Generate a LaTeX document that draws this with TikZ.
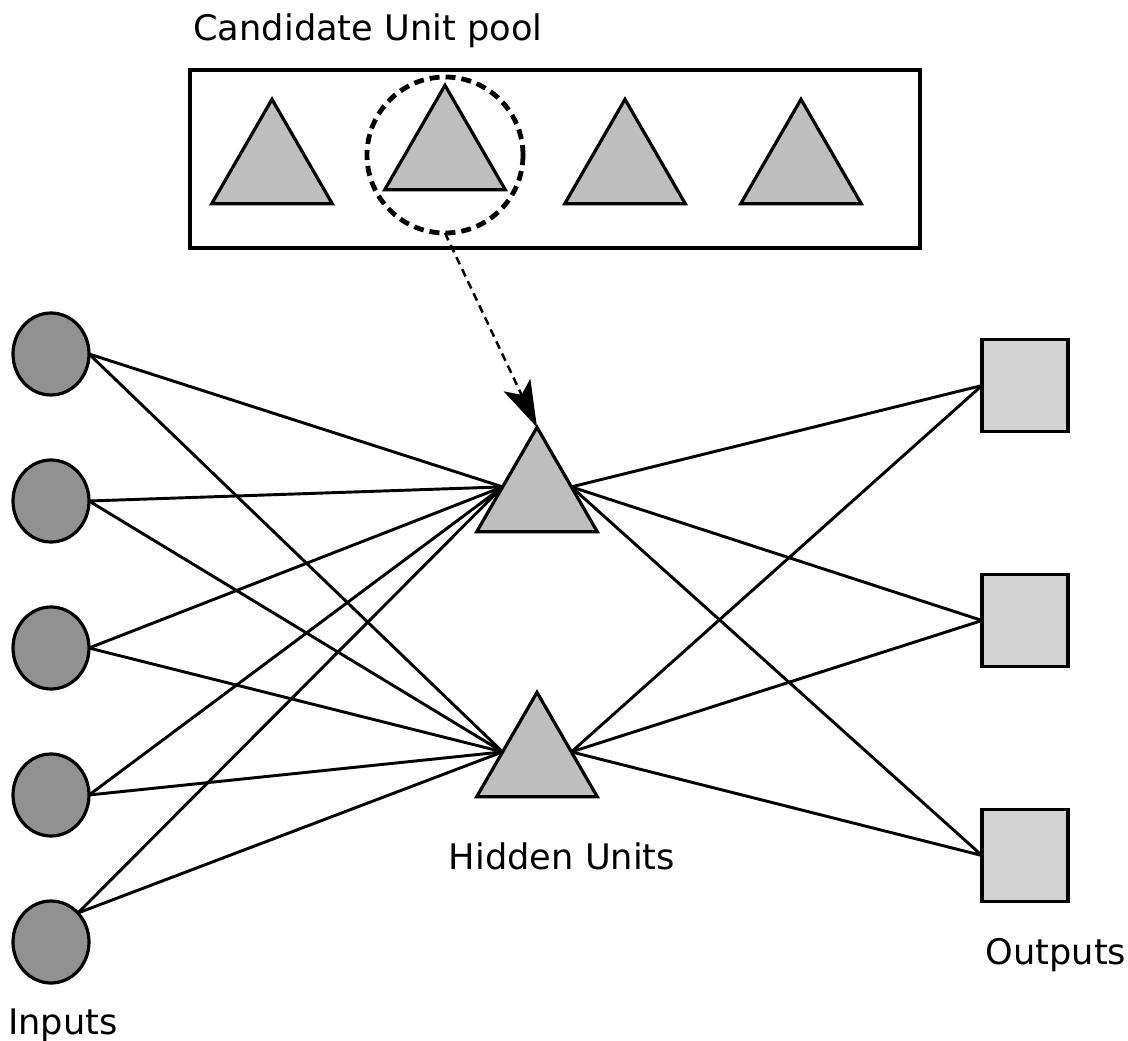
\documentclass[tikz,border=0pt]{standalone}
\usepackage{fontspec}
\setmainfont{DejaVu Sans}
\usetikzlibrary{shapes.geometric,arrows.meta,calc,backgrounds}

\definecolor{infill}{RGB}{145,145,145}
\definecolor{trifill}{RGB}{190,190,190}
\definecolor{outfill}{RGB}{211,211,211}

\tikzset{
  unit/.style={line width=2.4pt, inner sep=0pt, outer sep=0pt},
  inputunit/.style={unit, ellipse, draw, fill=infill, minimum width=57pt, minimum height=61.5pt},
  hiddenunit/.style={unit, regular polygon, regular polygon sides=3, draw, fill=trifill, minimum size=104.5pt},
  outputunit/.style={unit, rectangle, draw, fill=outfill, minimum width=64.5pt, minimum height=68.5pt},
  wire/.style={line width=2.2pt},
  caption/.style={font=\fontsize{26.4}{30}\selectfont, inner sep=0pt}
}

\begin{document}
\begin{tikzpicture}[x=0.75pt, y=-0.75pt]
\useasboundingbox (0,0) rectangle (1128,1041);

% candidate pool
\node[caption] (pooltitle) at (368,31) {Candidate Unit pool};
\node[unit, draw, rectangle, minimum width=547.5pt, minimum height=133.5pt] (pool) at (555,159) {};
\node[hiddenunit] (c1) at (272,169) {};
\node[hiddenunit] (c2) at (445,155) {};
\node[hiddenunit] (c3) at (625,169) {};
\node[hiddenunit] (c4) at (801,169) {};
\node[circle, draw, line width=3.6pt, dash pattern=on 7.5pt off 4.5pt, minimum size=117pt, inner sep=0pt, outer sep=0pt] (pick) at (445,155) {};

% inputs
\node[inputunit] (in1) at (51,354) {};
\node[inputunit] (in2) at (51,501) {};
\node[inputunit] (in3) at (51,648) {};
\node[inputunit] (in4) at (51,795) {};
\node[inputunit] (in5) at (51,942) {};
\node[caption] (inlabel) at (63,1025) {Inputs};

% hidden units
\node[hiddenunit] (h1) at (537,497) {};
\node[hiddenunit] (h2) at (537,762) {};
\node[caption] (hlabel) at (562,856) {Hidden Units};

\coordinate (h1l) at ($(h1.corner 1)!0.57!(h1.corner 2)$);
\coordinate (h1r) at ($(h1.corner 1)!0.57!(h1.corner 3)$);
\coordinate (h2l) at ($(h2.corner 1)!0.57!(h2.corner 2)$);
\coordinate (h2r) at ($(h2.corner 1)!0.57!(h2.corner 3)$);

% outputs
\node[outputunit] (o1) at (1025,385.5) {};
\node[outputunit] (o2) at (1025,620.5) {};
\node[outputunit] (o3) at (1025,855.5) {};
\node[caption] (olabel) at (1056,955) {Outputs};

% connections, kept behind the units
\begin{scope}[on background layer]
\foreach \i in {1,2,3,4} {
  \draw[wire] (in\i.east) -- (h1l);
  \draw[wire] (in\i.east) -- (h2l);
}
\draw[wire] (in5.north east) -- (h1l);
\draw[wire] (in5.north east) -- (h2l);
\foreach \j in {1,2,3} {
  \draw[wire] (h1r) -- (o\j.west);
  \draw[wire] (h2r) -- (o\j.west);
}
\end{scope}

% candidate installed as a hidden unit
\draw[line width=1.9pt, dash pattern=on 6pt off 4pt, -{Stealth[length=35pt, width=22pt, inset=8pt]}] (pick.south) -- (h1.corner 1);
\end{tikzpicture}
\end{document}
